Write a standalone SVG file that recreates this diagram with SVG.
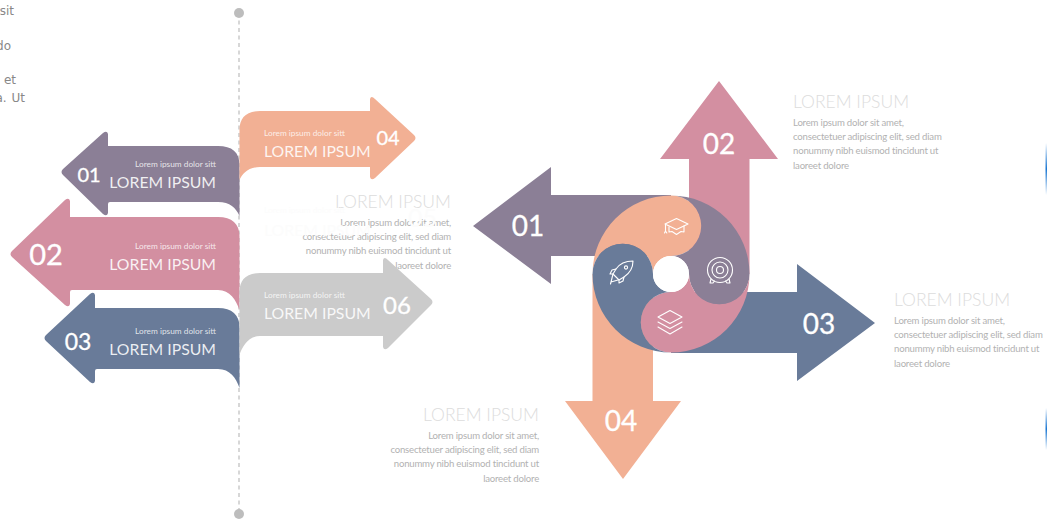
<svg xmlns="http://www.w3.org/2000/svg" width="1047" height="526" viewBox="0 0 1047 526">
<defs>
<linearGradient id="edge" x1="0" y1="0" x2="0" y2="1"><stop offset="0" stop-color="#1976d2" stop-opacity="0"/><stop offset=".5" stop-color="#1976d2"/><stop offset="1" stop-color="#1976d2" stop-opacity="0"/></linearGradient>
</defs>
<style>
text{font-family:Lato,"Liberation Sans",sans-serif}
.n{fill:#fff;stroke:#fff;stroke-width:.3;text-anchor:middle}
.s{fill:#fff;fill-opacity:.8;font-size:8.300px;text-anchor:end}
.l{fill:#fff;fill-opacity:.88;font-size:15.800px;text-anchor:end}
.a{text-anchor:start}
.t{fill:#dcdcdc;font-size:17.500px;font-weight:300}
.p{fill:#b2b2b2;font-size:9.600px;letter-spacing:-.2px}
.e{text-anchor:end}
.c{fill:#888;font-family:"DejaVu Sans",sans-serif;font-size:12px;text-anchor:end}
.i{fill:none;stroke:#fff;stroke-width:1.1;stroke-linejoin:round;stroke-linecap:round}
.pur{fill:#8b7f96}.pin{fill:#d38fa1}.blu{fill:#697b99}.org{fill:#f2b094}.gry{fill:#cbcbcb}
</style>
<g id="cut-text">
<text class="c" x="14" y="15">sit</text>
<text class="c" x="11" y="50">do</text>
<text class="c" x="16" y="84">et</text>
<text class="c" x="25" y="102" word-spacing="1">a. Ut</text>
</g>
<g id="connectors">
<line x1="239" y1="13" x2="239" y2="514" stroke="#bdbdbd" stroke-width="1.2" stroke-dasharray="4 3.500"/>
<circle cx="239" cy="13" r="5" fill="#bdbdbd"/>
<circle cx="239" cy="514" r="5" fill="#bdbdbd"/>
</g>
<g id="side-text-05">
<text class="t e" x="451" y="208">LOREM IPSUM</text>
<text class="p e" x="451" y="226">Lorem ipsum dolor sit amet,</text>
<text class="p e" x="451" y="240">consectetuer adipiscing elit, sed diam</text>
<text class="p e" x="451" y="254">nonummy nibh euismod tincidunt ut</text>
<text class="p e" x="451" y="269">laoreet dolore</text>
<g fill="#fcfcfc">
<text x="264" y="213" font-size="8.300">Lorem ipsum dolor sitt</text>
<text x="264" y="236" font-size="15.800">LOREM IPSUM</text>
<text x="408" y="227" font-size="25">05</text>
</g>
</g>
<g id="arrow-left-01">
<path class="pur" d="M239.500 216C236 208 230 202 218 202H110Q108 202 108 204V213Q107 217 103 214L63 175Q60 172 63 169L103 133Q107 130 108 134V146H218C232 146 239.500 152 239.500 165Z"/>
<text class="n" x="89" y="182" font-size="20">01</text>
<text class="s" x="216" y="167">Lorem ipsum dolor sitt</text>
<text class="l" x="216" y="188">LOREM IPSUM</text>
</g>
<g id="arrow-left-02">
<path class="pin" d="M239.500 310C236 300 230 290 218 290H72Q70 290 70 292V304Q69 308 65 305L12 257Q9 254 12 251L65 200Q69 197 70 201V217H218C232 217 239.500 224 239.500 236Z"/>
<text class="n" x="46" y="265" font-size="29">02</text>
<text class="s" x="216" y="249">Lorem ipsum dolor sitt</text>
<text class="l" x="216" y="270">LOREM IPSUM</text>
</g>
<g id="arrow-left-03">
<path class="blu" d="M239.500 388C236 378 230 369 218 369H97Q95 369 95 371V381Q94 385 90 382L46 341Q43 338 46 335L90 294Q94 291 95 295V308H218C232 308 239.500 315 239.500 327Z"/>
<text class="n" x="78" y="350" font-size="23">03</text>
<text class="s" x="216" y="334">Lorem ipsum dolor sitt</text>
<text class="l" x="216" y="355">LOREM IPSUM</text>
</g>
<g id="arrow-right-04">
<path class="org" d="M239.500 180C242 174 248 167 260 167H370V177Q371 181 375 178L414 141Q417 138 414 135L375 99Q371 95 370 99V111H260C246 111 239.500 118 239.500 130Z"/>
<text class="n" x="388" y="145" font-size="20">04</text>
<text class="s a" x="264" y="136">Lorem ipsum dolor sitt</text>
<text class="l a" x="264" y="157">LOREM IPSUM</text>
</g>
<g id="arrow-right-06">
<path class="gry" d="M239.500 355C242 347 248 336 260 336H383V347Q384 351 388 348L431 305Q434 302 431 299L388 260Q384 256 383 260V273H260C246 273 239.500 280 239.500 292Z"/>
<text class="n" x="397" y="314" font-size="24">06</text>
<text class="s a" x="264" y="298">Lorem ipsum dolor sitt</text>
<text class="l a" x="264" y="319">LOREM IPSUM</text>
</g>
<g id="big-arrow-01">
<path class="pur" d="M473 226L551 167V195H671V256H551V284Z"/>
<text class="n" x="528" y="236" font-size="28">01</text>
</g>
<g id="big-arrow-02">
<path class="pin" d="M719 81L778 159H749.500V274H689V159H660Z"/>
<text class="n" x="719" y="154" font-size="28">02</text>
</g>
<g id="big-arrow-03">
<path class="blu" d="M875 323L797 264V292H671V353H797V381Z"/>
<text class="n" x="819" y="334" font-size="28">03</text>
</g>
<g id="big-arrow-04">
<path class="org" d="M623 479L681 401H653V274H592.500V401H565Z"/>
<text class="n" x="621" y="431" font-size="28">04</text>
</g>
<g id="pinwheel">
<path class="org" d="M671 195.500A78.500 78.500 0 0 0 592.500 274A30.250 30.250 0 0 1 653 274A18 18 0 0 1 671 256A30.250 30.250 0 0 0 671 195.500Z"/>
<path class="pur" d="M749.500 274A78.500 78.500 0 0 0 671 195.500A30.250 30.250 0 0 1 671 256A18 18 0 0 1 689 274A30.250 30.250 0 0 0 749.500 274Z"/>
<path class="pin" d="M671 352.500A78.500 78.500 0 0 0 749.500 274A30.250 30.250 0 0 1 689 274A18 18 0 0 1 671 292A30.250 30.250 0 0 0 671 352.500Z"/>
<path class="blu" d="M592.500 274A78.500 78.500 0 0 0 671 352.500A30.250 30.250 0 0 1 671 292A18 18 0 0 1 653 274A30.250 30.250 0 0 0 592.500 274Z"/>
<circle cx="671" cy="274" r="18" fill="#fff"/>
<g class="i">
<path d="M665 224L676.500 218.500L688 224L676.500 229.500Z"/>
<path d="M669 227V232L672 231.500L676.500 234.500L681 231.500L684 232V226"/>
<path d="M665.500 224.500V231M664.500 233L665.500 231L666.800 233"/>
<circle cx="720" cy="270" r="12.500"/><circle cx="720" cy="270" r="8"/><circle cx="720" cy="270" r="3.500"/>
<path d="M711 279L710 283H713L714.500 281M729 279L730 283H727L725.500 281"/>
<path d="M633 261C627 261 620 263 616 269L613 274L619 280L624 277C630 273 633 267 633 261Z"/>
<circle cx="626" cy="267.500" r="1.600"/>
<path d="M616 269L612 270L610 274H613M624 277L623 281L619 283V280"/>
<path d="M613 274L611 282L618 280M611 282L610.500 284"/>
<path d="M658 317L670 310.500L682 317L670 323.500Z"/>
<path d="M658 322L670 328.500L682 322"/><path d="M658 327L670 334L682 327"/>
</g>
</g>
<g id="side-text-02">
<text class="t" x="793" y="108">LOREM IPSUM</text>
<text class="p" x="793" y="126">Lorem ipsum dolor sit amet,</text>
<text class="p" x="793" y="140">consectetuer adipiscing elit, sed diam</text>
<text class="p" x="793" y="154">nonummy nibh euismod tincidunt ut</text>
<text class="p" x="793" y="169">laoreet dolore</text>
</g>
<g id="side-text-03">
<text class="t" x="894" y="306">LOREM IPSUM</text>
<text class="p" x="894" y="324">Lorem ipsum dolor sit amet,</text>
<text class="p" x="894" y="338">consectetuer adipiscing elit, sed diam</text>
<text class="p" x="894" y="352">nonummy nibh euismod tincidunt ut</text>
<text class="p" x="894" y="367">laoreet dolore</text>
</g>
<g id="side-text-04">
<text class="t e" x="539" y="421">LOREM IPSUM</text>
<text class="p e" x="539" y="439">Lorem ipsum dolor sit amet,</text>
<text class="p e" x="539" y="453">consectetuer adipiscing elit, sed diam</text>
<text class="p e" x="539" y="467">nonummy nibh euismod tincidunt ut</text>
<text class="p e" x="539" y="482">laoreet dolore</text>
</g>
<g id="edge-slivers" fill="url(#edge)">
<rect x="1045.500" y="143" width="1.500" height="52"/>
<rect x="1045.500" y="408" width="1.500" height="42"/>
</g>
</svg>
